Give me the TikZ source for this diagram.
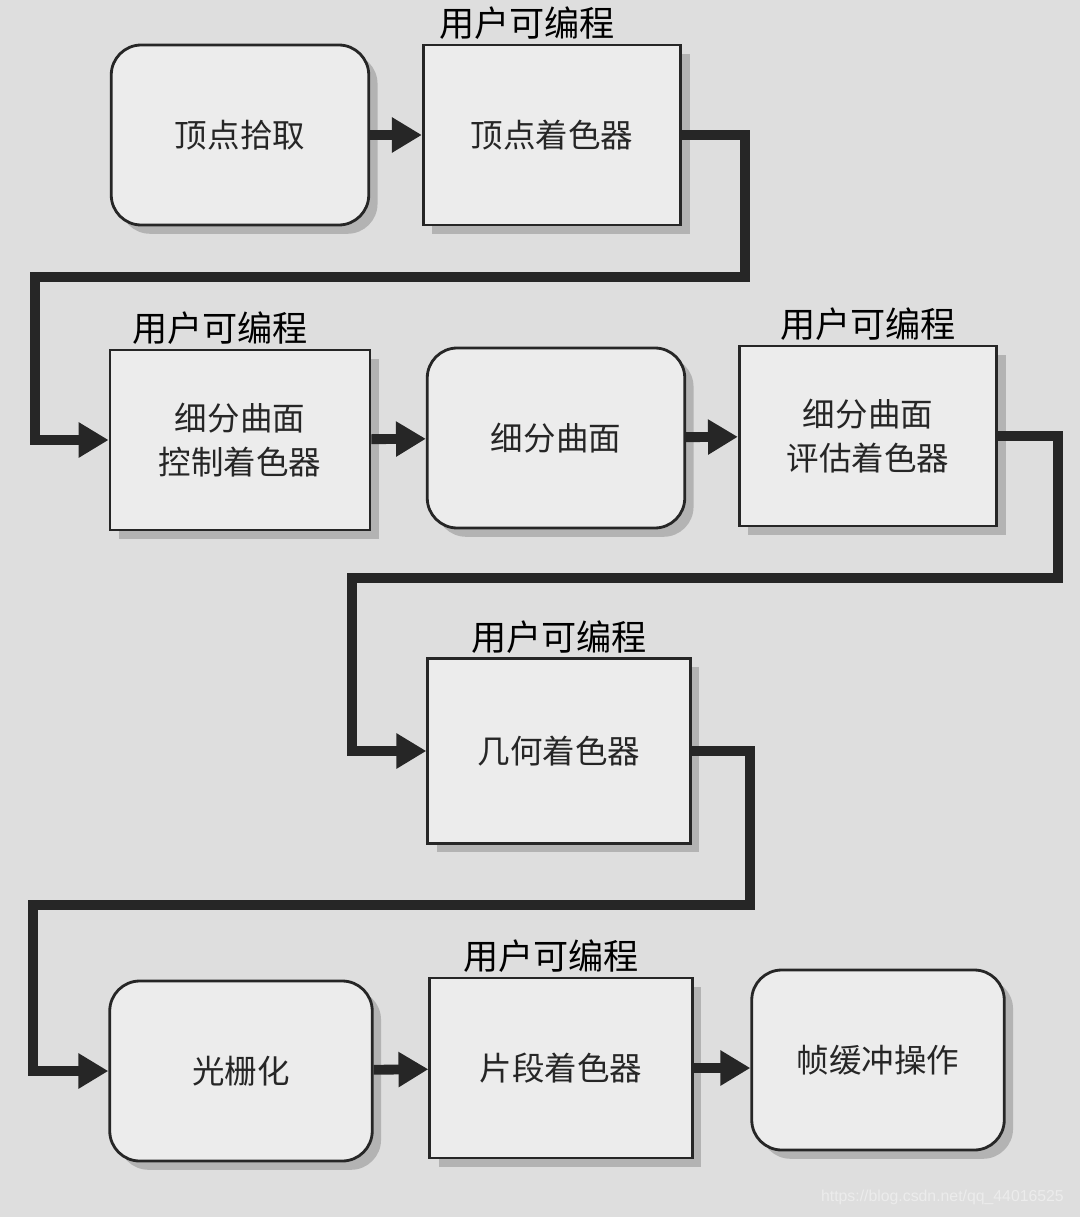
\documentclass[tikz,border=0pt]{standalone}
\usepackage{fontspec}
\newfontfamily\cjk{Noto Sans CJK SC}
\newfontfamily\wmfont{Liberation Sans}
\usepackage{xcolor}
\usetikzlibrary{arrows.meta,shadows}
\definecolor{paper}{HTML}{DEDEDE}
\definecolor{boxfill}{HTML}{ECECEC}
\definecolor{ink}{HTML}{262626}

\begin{document}
\begin{tikzpicture}[x=0.2mm, y=-0.2mm,
    box/.style={draw=ink, line width=1.6pt, fill=boxfill, rectangle, minimum width=5.15cm, minimum height=3.6cm, align=center, text=ink, font=\cjk\fontsize{18.5}{25}\selectfont, drop shadow={opacity=0.45, shadow xshift=5pt, shadow yshift=-5pt}},
    rbox/.style={box, rounded corners=0.6cm},
    note/.style={font=\cjk\fontsize{20}{22}\selectfont, text=black, inner sep=1pt},
    flow/.style={-{Triangle[length=17pt, width=19pt]}, line width=5.6pt, draw=ink}
]
\fill[paper] (0,0) rectangle (1080,1217);
\useasboundingbox (0,0) rectangle (1080,1217);

\node[rbox] (pick) at (240,135) {顶点拾取};
\node[box] (vs) at (552,135) {顶点着色器};
\node[box, minimum width=5.2cm] (tcs) at (240,440) {细分曲面\\控制着色器};
\node[rbox] (tess) at (556,438) {细分曲面};
\node[box] (tes) at (868,436) {细分曲面\\评估着色器};
\node[box, minimum width=5.25cm, minimum height=3.7cm] (geom) at (559,751) {几何着色器};
\node[rbox, minimum width=5.25cm] (raster) at (241,1071) {光栅化};
\node[box, minimum width=5.25cm] (frag) at (561,1068) {片段着色器};
\node[rbox, minimum width=5.05cm] (fbo) at (878,1060) {帧缓冲操作};

% user programmable stages
\node[note, above=1pt, xshift=-0.5cm] (n1) at (vs.north) {用户可编程};
\node[note, above=1pt, xshift=-0.4cm] (n2) at (tcs.north) {用户可编程};
\node[note, above=1pt] (n3) at (tes.north) {用户可编程};
\node[note, above=1pt] (n4) at (geom.north) {用户可编程};
\node[note, above=1pt, xshift=-0.2cm] (n5) at (frag.north) {用户可编程};

\coordinate (r1) at (745,277);
\coordinate (l1) at (35,277);
\coordinate (r2) at (1058,578);
\coordinate (l2) at (352,578);
\coordinate (r3) at (750,905);
\coordinate (l3) at (33,905);

\draw[flow] (pick) -- (vs);
\draw[flow] (vs.east) -| (r1) -- (l1) |- (tcs.west);
\draw[flow] (tcs) -- (tess);
\draw[flow] (tess) -- (tes);
\draw[flow] (tes.east) -| (r2) -- (l2) |- (geom.west);
\draw[flow] (geom.east) -| (r3) -- (l3) |- (raster.west);
\draw[flow] (raster) -- (frag);
\draw[flow] (frag.east) -- (fbo.west |- frag.east);

\node[anchor=east, text=white!85!gray, font=\wmfont\fontsize{9}{10}\selectfont] (wm) at (1070,1197) {https://blog.csdn.net/qq\_44016525};
\end{tikzpicture}
\end{document}
